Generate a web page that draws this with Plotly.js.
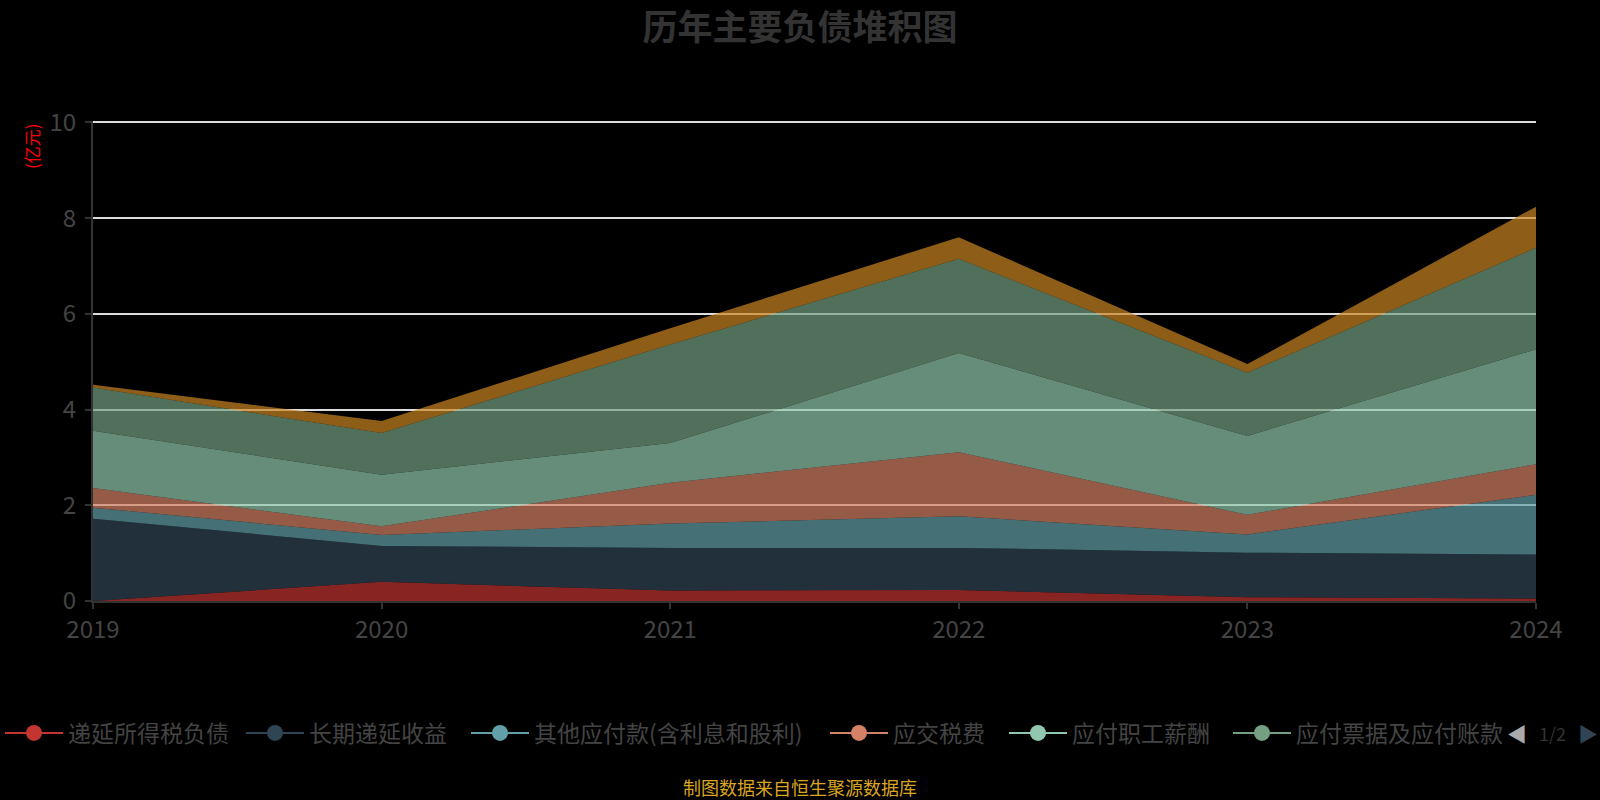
<!DOCTYPE html>
<html>
<head>
<meta charset="utf-8">
<script src="https://cdn.plot.ly/plotly-3.0.1.min.js"></script>
<style>
  html, body { margin: 0; padding: 0; background: #000; }
  #chart { width: 1600px; height: 800px; }
</style>
</head>
<body>
<div id="chart"></div>
<script>
// years on the x axis
var years = ['2019', '2020', '2021', '2022', '2023', '2024'];

// values in 亿元, bottom of the stack first
var deferredTaxLiab = [0.00, 0.40, 0.22, 0.23, 0.08, 0.05];
var longDeferredIncome = [1.72, 0.75, 0.89, 0.88, 0.93, 0.92];
var otherPayables = [0.23, 0.23, 0.51, 0.66, 0.38, 1.25];
var taxesPayable = [0.41, 0.18, 0.85, 1.34, 0.41, 0.64];
var staffPayable = [1.20, 1.08, 0.83, 2.07, 1.65, 2.40];
var notesAccountsPayable = [0.90, 0.87, 2.06, 1.97, 1.32, 2.12];
var contractLiab = [0.06, 0.25, 0.34, 0.45, 0.18, 0.86];

var seriesNames = ['递延所得税负债', '长期递延收益', '其他应付款(含利息和股利)', '应交税费',
  '应付职工薪酬', '应付票据及应付账款', '合同负债'];
var seriesValues = [deferredTaxLiab, longDeferredIncome, otherPayables, taxesPayable,
  staffPayable, notesAccountsPayable, contractLiab];

(function() {
  'use strict';
  var palette = ['#c23531', '#2f4554', '#61a0a8', '#d48265', '#91c7ae', '#749f83', '#ca8622'];
  var FONT = '"Noto Sans CJK SC", "Noto Sans", sans-serif';
  // legend page 1 holds 6 entries; x of each entry's circle in the picture
  var legendCenters = [25, 275, 500, 859, 1038, 1262];
  var legendY = 1 - 733 / 800;
  var ITEMW = 58;

  function fade(hex, a) {
    var n = parseInt(hex.slice(1), 16);
    return 'rgba(' + (n >> 16) + ',' + ((n >> 8) & 255) + ',' + (n & 255) + ',' + a + ')';
  }

  function legendKey(i) {
    return i === 0 ? 'legend' : 'legend' + (i + 1);
  }

  // paper coords for a point given in picture pixels
  function px(x) { return (x - 93) / 1443; }
  function py(y) { return (601 - y) / 480; }

  var data = [];
  seriesValues.forEach(function(vals, i) {
    data.push({
      x: years, y: vals,
      type: 'scatter', mode: 'lines',
      stackgroup: 'one',
      name: seriesNames[i],
      line: { color: palette[i], width: 0 },
      fillcolor: fade(palette[i], 0.7),
      showlegend: false,
      hoverinfo: 'skip'
    });
  });
  // legend entries drawn as line + circle, one small legend per entry so the spacing matches
  seriesNames.forEach(function(name, i) {
    var shown = i < legendCenters.length;
    data.push({
      x: [null], y: [null],
      type: 'scatter', mode: 'lines+markers',
      name: name,
      legend: shown ? legendKey(i) : 'legend',
      line: { color: palette[i], width: 2 },
      marker: { color: palette[i], size: 16 },
      showlegend: shown
    });
  });

  function note(text, x, y, size, color) {
    return {
      text: text, xref: 'paper', yref: 'paper', x: px(x), y: py(y),
      xanchor: 'center', yanchor: 'middle', showarrow: false,
      font: { family: FONT, size: size, color: color }
    };
  }

  var unitLabel = note('(亿元)', 31, 146, 17, '#ff0000');
  unitLabel.textangle = -90;

  var layout = {
    width: 1600, height: 800,
    paper_bgcolor: '#000',
    plot_bgcolor: '#000',
    margin: { l: 93, r: 64, t: 121, b: 199 },
    font: { family: FONT, color: '#444', size: 24 },
    showlegend: true,
    title: {
      text: '<b>历年主要负债堆积图</b>',
      font: { family: FONT, size: 35, color: '#333' },
      x: 0.5, xanchor: 'center', xref: 'container',
      y: 1 - 28 / 800, yanchor: 'middle', yref: 'container'
    },
    xaxis: {
      type: 'category', range: [0, 5],
      showgrid: false, zeroline: false,
      showline: true, linecolor: '#333', linewidth: 2,
      ticks: 'outside', ticklen: 6, tickwidth: 2, tickcolor: '#333',
      tickfont: { size: 24, color: '#444' }
    },
    yaxis: {
      range: [0, 10.03], tickvals: [0, 2, 4, 6, 8, 10],
      showgrid: true, gridcolor: '#dddddd', gridwidth: 2,
      zeroline: false,
      showline: true, linecolor: '#333', linewidth: 2,
      ticks: 'outside', ticklen: 6, tickwidth: 2, tickcolor: '#333',
      ticklabelstandoff: 4,
      tickfont: { size: 24, color: '#444' }
    },
    annotations: [
      unitLabel,
      note('制图数据来自恒生聚源数据库', 800, 787, 18, '#daa520'),
      // legend page switcher
      note('◀', 1517, 733, 20, '#aaa'),
      note('1/2', 1552, 733, 18, '#333'),
      note('▶', 1588, 733, 20, '#2f4554')
    ]
  };

  legendCenters.forEach(function(cx, i) {
    layout[legendKey(i)] = {
      orientation: 'h',
      xref: 'container', yref: 'container',
      x: Math.max(0, (cx - 34) / 1600), xanchor: 'left',
      y: legendY, yanchor: 'middle',
      itemwidth: ITEMW,
      font: { family: FONT, size: 23, color: '#444' },
      bgcolor: 'rgba(0,0,0,0)'
    };
  });

  Plotly.newPlot('chart', data, layout, { displayModeBar: false, staticPlot: true });
})();
</script>
</body>
</html>
